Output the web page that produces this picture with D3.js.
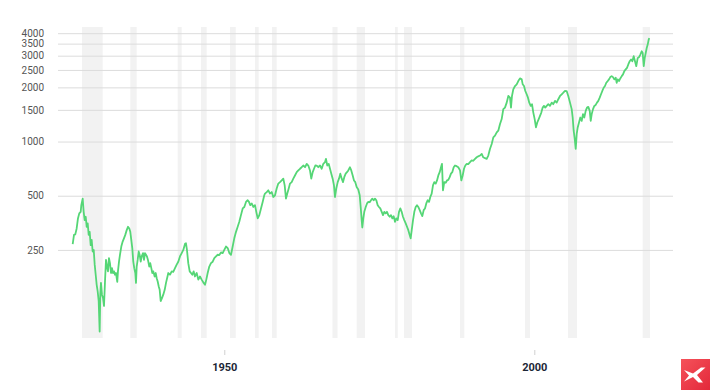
<!DOCTYPE html>
<html><head><meta charset="utf-8">
<script src="https://cdn.jsdelivr.net/npm/d3@7"></script>
<style>
html,body{margin:0;padding:0;background:#fff;}
svg{display:block;}
</style></head>
<body><svg id="c" width="710" height="390"></svg>
<script>
const years = [1925.55,1925.76,1925.97,1926.19,1926.40,1926.61,1926.84,1926.94,1927.16,1927.32,1927.48,1927.65,1927.81,1927.97,1928.13,1928.29,1928.45,1928.61,1928.77,1928.94,1929.10,1929.26,1929.42,1929.58,1929.74,1929.90,1930.00,1930.11,1930.27,1930.44,1930.60,1930.76,1930.92,1931.08,1931.24,1931.40,1931.56,1931.73,1931.89,1932.05,1932.21,1932.37,1932.53,1932.74,1932.85,1933.02,1933.18,1933.39,1933.61,1933.82,1934.03,1934.26,1934.47,1934.68,1934.84,1935.00,1935.16,1935.32,1935.48,1935.65,1935.76,1935.87,1936.03,1936.19,1936.35,1936.52,1936.68,1936.89,1937.05,1937.21,1937.37,1937.53,1937.69,1937.90,1938.06,1938.23,1938.39,1938.55,1938.77,1938.94,1939.10,1939.26,1939.42,1939.58,1939.74,1939.95,1940.16,1940.39,1940.60,1940.97,1941.24,1941.52,1941.77,1942.05,1942.32,1942.58,1942.85,1943.13,1943.39,1943.66,1943.82,1943.98,1944.19,1944.42,1944.63,1944.84,1945.06,1945.27,1945.55,1945.81,1946.08,1946.35,1946.61,1946.89,1947.10,1947.32,1947.58,1947.85,1948.13,1948.39,1948.66,1948.94,1949.19,1949.47,1949.74,1950.00,1950.27,1950.55,1950.81,1951.08,1951.35,1951.61,1951.89,1952.16,1952.42,1952.69,1952.97,1953.23,1953.50,1953.77,1953.98,1954.19,1954.42,1954.68,1954.95,1955.16,1955.39,1955.65,1955.92,1956.19,1956.45,1956.56,1956.84,1957.10,1957.37,1957.65,1957.90,1958.18,1958.45,1958.71,1958.98,1959.26,1959.52,1959.74,1959.95,1960.16,1960.39,1960.60,1960.87,1961.13,1961.40,1961.68,1961.94,1962.21,1962.48,1962.74,1963.02,1963.29,1963.55,1963.82,1964.03,1964.26,1964.47,1964.68,1964.90,1965.16,1965.44,1965.71,1965.97,1966.24,1966.40,1966.61,1966.84,1967.05,1967.26,1967.48,1967.69,1967.85,1968.06,1968.29,1968.50,1968.71,1968.94,1969.15,1969.35,1969.58,1969.79,1970.00,1970.27,1970.48,1970.71,1970.92,1971.13,1971.35,1971.61,1971.84,1972.00,1972.16,1972.26,1972.42,1972.58,1972.81,1973.02,1973.23,1973.45,1973.66,1973.87,1974.10,1974.31,1974.52,1974.74,1974.95,1975.16,1975.39,1975.60,1975.81,1976.03,1976.24,1976.45,1976.68,1976.89,1977.10,1977.32,1977.53,1977.74,1977.97,1978.18,1978.39,1978.61,1978.82,1979.03,1979.26,1979.47,1979.68,1979.90,1980.06,1980.23,1980.44,1980.65,1980.87,1981.08,1981.29,1981.52,1981.73,1981.94,1982.16,1982.37,1982.58,1982.81,1983.02,1983.23,1983.45,1983.66,1983.87,1984.10,1984.31,1984.52,1984.74,1984.95,1985.11,1985.27,1985.48,1985.71,1985.92,1986.13,1986.35,1986.56,1986.77,1987.00,1987.21,1987.48,1987.74,1988.02,1988.23,1988.45,1988.66,1988.87,1989.10,1989.35,1989.63,1989.90,1990.16,1990.44,1990.71,1990.97,1991.24,1991.52,1991.77,1992.05,1992.32,1992.58,1992.85,1993.13,1993.39,1993.66,1993.94,1994.19,1994.47,1994.74,1995.00,1995.27,1995.55,1995.81,1996.08,1996.24,1996.40,1996.61,1996.89,1997.16,1997.42,1997.69,1997.97,1998.13,1998.34,1998.55,1998.77,1998.98,1999.19,1999.42,1999.63,1999.84,2000.06,2000.27,2000.48,2000.71,2000.92,2001.13,2001.35,2001.56,2001.77,2002.00,2002.26,2002.53,2002.81,2003.06,2003.34,2003.61,2003.87,2004.15,2004.42,2004.68,2004.95,2005.23,2005.48,2005.76,2006.03,2006.19,2006.35,2006.52,2006.68,2006.84,2007.00,2007.21,2007.42,2007.65,2007.85,2008.06,2008.29,2008.50,2008.71,2008.94,2009.10,2009.26,2009.47,2009.68,2009.90,2010.11,2010.32,2010.55,2010.76,2010.97,2011.19,2011.40,2011.61,2011.84,2012.05,2012.26,2012.48,2012.69,2012.90,2013.13,2013.29,2013.45,2013.66,2013.87,2014.10,2014.31,2014.52,2014.74,2014.95,2015.16,2015.39,2015.60,2015.81,2016.03,2016.24,2016.45,2016.68,2016.89,2017.10,2017.32,2017.48,2017.65,2017.81,2017.97,2018.13,2018.29,2018.45,2018.55];

const values = [269,303,305,329,374,399,407,443,482,407,366,382,336,351,303,315,266,284,245,250,207,182,160,147,130,88,141,164,141,135,122,167,220,202,190,225,211,186,198,186,190,182,186,166,190,215,235,261,278,290,303,322,336,329,315,284,256,215,198,186,164,202,220,245,235,215,230,240,220,240,235,230,220,202,211,198,186,190,178,186,174,167,157,150,130,135,141,150,164,186,182,190,189,198,207,215,230,240,250,270,272,250,211,190,186,182,190,178,186,171,178,171,165,160,171,186,202,211,215,225,230,235,234,242,240,250,261,256,240,235,261,290,315,336,358,390,425,433,462,472,462,443,453,433,443,407,374,390,425,462,503,514,524,536,514,524,492,503,548,584,595,608,622,571,482,514,548,584,595,622,648,676,691,706,720,736,720,752,736,691,622,676,706,736,735,720,736,706,752,768,802,736,752,706,663,622,571,492,548,595,622,663,622,595,634,663,676,691,720,691,648,608,595,559,542,503,433,366,333,374,407,433,453,462,460,472,482,472,482,472,443,433,425,407,390,407,399,407,390,382,390,374,385,358,374,366,407,425,407,382,366,351,336,322,303,290,322,366,407,433,443,433,416,399,385,416,425,453,472,462,492,514,571,595,584,608,648,676,720,752,536,595,590,608,612,634,663,676,720,736,730,720,691,608,648,706,736,752,750,768,785,782,802,818,828,836,854,818,808,802,836,910,970,1055,1078,1124,1149,1251,1333,1514,1544,1645,1792,1753,1544,1792,1951,2035,2080,2168,2244,2216,2080,2035,1910,1831,1753,1645,1578,1613,1449,1333,1200,1276,1333,1390,1449,1544,1578,1544,1578,1613,1578,1645,1613,1682,1645,1719,1792,1831,1868,1910,1905,1792,1645,1514,1360,1149,1034,910,1102,1198,1276,1360,1304,1420,1360,1481,1544,1558,1481,1304,1420,1514,1578,1598,1645,1682,1753,1831,1910,1991,2035,2122,2168,2216,2281,2310,2281,2216,2261,2122,2216,2168,2243,2310,2361,2462,2516,2567,2681,2796,2857,2796,2979,2796,2624,2915,2941,3045,3174,3106,2624,2915,3106,3310,3457,3684,3758];

const bandStarts = [1927.05,1934.84,1942.48,1946.24,1950.92,1954.95,1957.69,1967.45,1971.35,1977.53,1978.98,1988.02,1998.50,2005.44,2017.48];
const bandEnds   = [1930.39,1935.87,1943.13,1947.16,1951.85,1955.55,1958.45,1968.26,1972.69,1977.97,1980.27,1988.71,1999.30,2006.89,2018.66];

const yTicks = [250,500,1000,1500,2000,2500,3000,3500,4000];
const xTicks = [1950,2000];

const svg = d3.select("#c");
const L = 58, R = 673, T = 27, B = 338;

const x = d3.scaleLinear().domain([1923.18, 2022.37]).range([L, R]);
const y = d3.scaleLog().domain([81, 4330]).range([B, T]);

// recession bands
svg.append("g").selectAll("rect").data(bandStarts).join("rect")
  .attr("x", (d) => x(d))
  .attr("width", (d, i) => x(bandEnds[i]) - x(d))
  .attr("y", T).attr("height", B - T)
  .attr("fill", "#f2f2f2");

// y axis + gridlines
const ya = svg.append("g").attr("transform", `translate(${L},0)`)
  .call(d3.axisLeft(y).tickValues(yTicks).tickFormat(d3.format("d"))
        .tickSize(-(R - L)).tickPadding(14));
ya.select(".domain").remove();
ya.selectAll(".tick line").attr("stroke", "#dcdcdc").attr("stroke-width", 1);
ya.selectAll(".tick text").attr("fill", "#555").style("font-family", "Roboto, sans-serif")
  .style("font-size", "10px");

// x axis
const xa = svg.append("g").attr("transform", `translate(0,350)`)
  .call(d3.axisBottom(x).tickValues(xTicks).tickFormat(d3.format("d"))
        .tickSize(5).tickPadding(8));
xa.select(".domain").remove();
xa.selectAll(".tick line").attr("stroke", "#d0d0d0");
xa.selectAll(".tick text").attr("fill", "#1c2636").style("font-family", "Roboto, sans-serif")
  .style("font-size", "11px").style("font-weight", "bold");

// line
const line = d3.line().x((d, i) => x(years[i])).y((d) => y(d));
svg.append("path").datum(values).attr("d", line)
  .attr("fill", "none").attr("stroke", "#55d676").attr("stroke-width", 1.8)
  .attr("stroke-linejoin", "round");

// logo
const defs = svg.append("defs");
const gr = defs.append("linearGradient").attr("id", "lg").attr("x1", 0).attr("y1", 0).attr("x2", 1).attr("y2", 1);
gr.append("stop").attr("offset", "0%").attr("stop-color", "#f5525a");
gr.append("stop").attr("offset", "100%").attr("stop-color", "#e3283a");
const lg = svg.append("g").attr("transform", "translate(681,359)");
lg.append("rect").attr("width", 29).attr("height", 31).attr("fill", "url(#lg)");
lg.append("path").attr("fill", "#fff")
  .attr("d", "M3,11 L12,14.5 L20,8.5 L24.5,8.5 L16,16 L22,23.5 L17.5,23.5 L12,18 L3,22.5 L8,16.5 Z");
</script>
</body></html>
